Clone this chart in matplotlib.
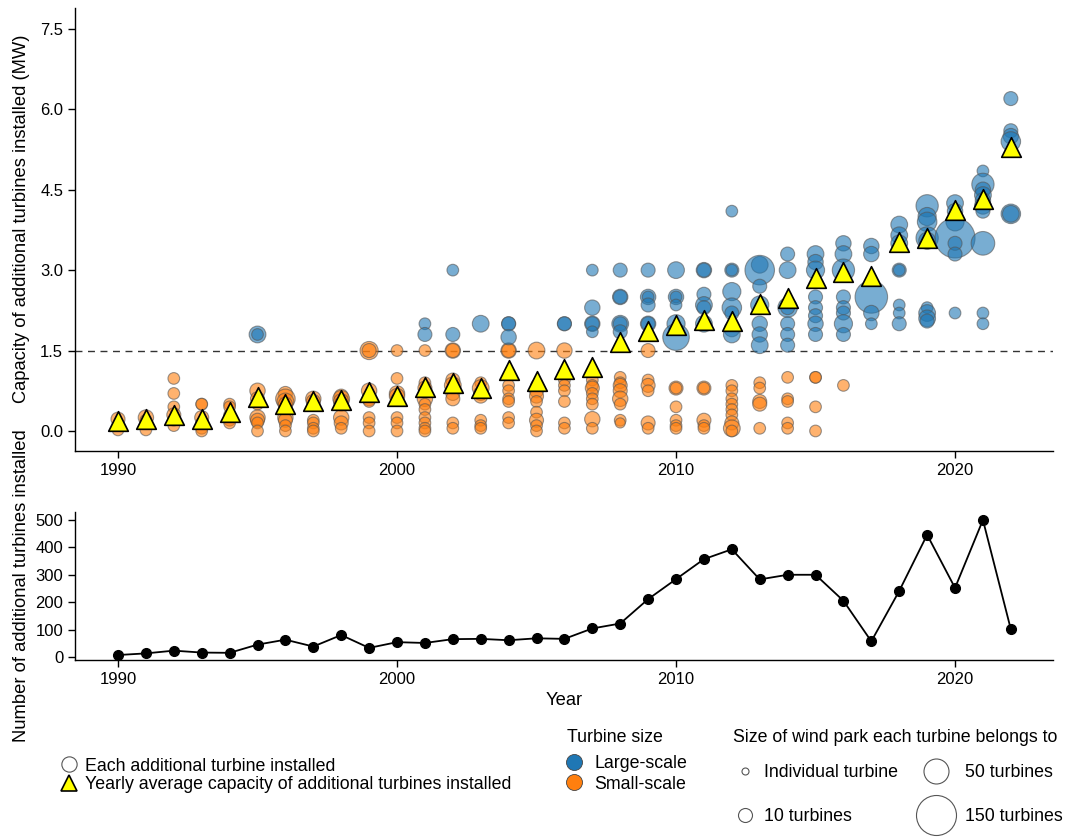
import numpy as np
import matplotlib
matplotlib.use("Agg")
import matplotlib.pyplot as plt
from matplotlib.lines import Line2D

plt.rcParams['font.family'] = ['Liberation Sans', 'DejaVu Sans']
plt.rcParams['font.size'] = 12

# yearly summary
years = list(range(1990, 2023))
avg_capacity = [0.19, 0.22, 0.30, 0.22, 0.35, 0.63, 0.50, 0.56, 0.58, 0.73,
                0.65, 0.82, 0.90, 0.80, 1.14, 0.93, 1.16, 1.19, 1.66, 1.87,
                1.98, 2.07, 2.05, 2.37, 2.48, 2.85, 2.97, 2.89, 3.53, 3.60,
                4.12, 4.33, 5.30]
n_turbines = [7, 13, 23, 16, 15, 45, 63, 38, 80, 33,
              54, 51, 65, 66, 61, 68, 66, 104, 122, 211,
              284, 357, 393, 283, 300, 300, 205, 57, 241, 446,
              252, 500, 101]

# (year, capacity MW, wind park size) for each turbine group
small_scale = [
    (1990, 0.22, 10), (1990, 0.02, 7),
    (1991, 0.25, 15), (1991, 0.20, 7), (1991, 0.02, 7),
    (1992, 0.98, 7), (1992, 0.70, 7), (1992, 0.45, 7), (1992, 0.30, 10), (1992, 0.20, 7), (1992, 0.10, 7),
    (1993, 0.50, 7), (1993, 0.50, 7), (1993, 0.25, 10), (1993, 0.15, 7), (1993, 0.05, 7), (1993, 0.00, 7),
    (1994, 0.50, 7), (1994, 0.45, 7), (1994, 0.30, 7), (1994, 0.20, 7), (1994, 0.15, 7),
    (1995, 0.75, 15), (1995, 0.60, 10), (1995, 0.50, 7), (1995, 0.25, 15), (1995, 0.20, 10), (1995, 0.15, 7), (1995, 0.00, 7),
    (1996, 0.70, 10), (1996, 0.60, 30), (1996, 0.55, 20), (1996, 0.50, 10), (1996, 0.25, 15), (1996, 0.20, 10), (1996, 0.10, 7), (1996, 0.00, 7),
    (1997, 0.60, 15), (1997, 0.55, 10), (1997, 0.20, 7), (1997, 0.15, 7), (1997, 0.05, 7), (1997, 0.00, 7),
    (1998, 0.65, 10), (1998, 0.60, 20), (1998, 0.55, 15), (1998, 0.50, 10), (1998, 0.25, 15), (1998, 0.15, 10), (1998, 0.05, 7),
    (1999, 1.50, 25), (1999, 1.50, 10), (1999, 0.75, 15), (1999, 0.60, 10), (1999, 0.55, 7), (1999, 0.25, 7), (1999, 0.15, 7), (1999, 0.00, 7),
    (2000, 1.50, 7), (2000, 0.98, 7), (2000, 0.70, 15), (2000, 0.65, 15), (2000, 0.60, 7), (2000, 0.25, 7), (2000, 0.15, 7), (2000, 0.00, 7),
    (2001, 1.50, 7), (2001, 0.90, 7), (2001, 0.80, 10), (2001, 0.75, 7), (2001, 0.60, 15), (2001, 0.50, 7), (2001, 0.40, 7),
    (2001, 0.25, 7), (2001, 0.15, 7), (2001, 0.05, 7), (2001, 0.00, 7),
    (2002, 1.50, 15), (2002, 1.50, 10), (2002, 0.95, 10), (2002, 0.85, 20), (2002, 0.70, 10), (2002, 0.60, 10), (2002, 0.15, 7), (2002, 0.05, 7),
    (2003, 0.90, 7), (2003, 0.80, 20), (2003, 0.70, 10), (2003, 0.65, 10), (2003, 0.20, 7), (2003, 0.10, 7), (2003, 0.05, 7),
    (2004, 1.50, 15), (2004, 1.50, 10), (2004, 0.85, 7), (2004, 0.75, 7), (2004, 0.60, 7), (2004, 0.55, 7), (2004, 0.25, 7), (2004, 0.15, 7),
    (2005, 1.50, 20), (2005, 0.85, 7), (2005, 0.75, 10), (2005, 0.65, 10), (2005, 0.55, 7), (2005, 0.35, 7), (2005, 0.20, 10), (2005, 0.10, 7), (2005, 0.00, 7),
    (2006, 1.50, 15), (2006, 0.95, 7), (2006, 0.85, 7), (2006, 0.75, 7), (2006, 0.55, 7), (2006, 0.15, 7), (2006, 0.05, 7),
    (2007, 0.95, 7), (2007, 0.85, 7), (2007, 0.80, 10), (2007, 0.70, 7), (2007, 0.60, 7), (2007, 0.50, 7), (2007, 0.22, 15), (2007, 0.05, 7),
    (2008, 1.00, 7), (2008, 0.90, 7), (2008, 0.85, 10), (2008, 0.75, 10), (2008, 0.60, 15), (2008, 0.50, 7), (2008, 0.20, 7), (2008, 0.15, 5),
    (2009, 1.50, 10), (2009, 0.95, 7), (2009, 0.85, 10), (2009, 0.75, 7), (2009, 0.15, 10), (2009, 0.05, 7),
    (2010, 0.80, 10), (2010, 0.80, 7), (2010, 0.45, 7), (2010, 0.20, 7), (2010, 0.10, 7), (2010, 0.05, 7),
    (2011, 0.80, 10), (2011, 0.80, 7), (2011, 0.20, 10), (2011, 0.10, 7), (2011, 0.05, 7),
    (2012, 0.85, 7), (2012, 0.75, 7), (2012, 0.60, 7), (2012, 0.50, 7), (2012, 0.40, 7), (2012, 0.30, 7),
    (2012, 0.15, 10), (2012, 0.05, 20), (2012, 0.00, 7),
    (2013, 0.90, 7), (2013, 0.80, 7), (2013, 0.55, 10), (2013, 0.50, 10), (2013, 0.05, 7),
    (2014, 1.00, 7), (2014, 0.60, 7), (2014, 0.55, 7), (2014, 0.15, 7), (2014, 0.05, 7),
    (2015, 1.00, 7), (2015, 1.00, 7), (2015, 0.45, 7), (2015, 0.00, 7),
    (2016, 0.85, 7),
]

large_scale = [
    (1995, 1.80, 20), (1995, 1.80, 7),
    (2001, 2.00, 7), (2001, 1.80, 10),
    (2002, 3.00, 7), (2002, 1.80, 10),
    (2003, 2.00, 20),
    (2004, 2.00, 10), (2004, 2.00, 10), (2004, 1.75, 15),
    (2006, 2.00, 10), (2006, 2.00, 10),
    (2007, 3.00, 7), (2007, 2.30, 15), (2007, 2.00, 15), (2007, 2.00, 10), (2007, 1.85, 7),
    (2008, 3.00, 10), (2008, 2.50, 15), (2008, 2.50, 10), (2008, 2.00, 20), (2008, 2.00, 10), (2008, 1.85, 10),
    (2009, 3.00, 10), (2009, 2.50, 15), (2009, 2.50, 7), (2009, 2.35, 10), (2009, 2.00, 15), (2009, 2.00, 10), (2009, 1.80, 7),
    (2010, 3.00, 20), (2010, 2.50, 15), (2010, 2.50, 7), (2010, 2.35, 7), (2010, 2.00, 25), (2010, 1.75, 60),
    (2011, 3.00, 15), (2011, 3.00, 10), (2011, 2.55, 10), (2011, 2.35, 20), (2011, 2.30, 10), (2011, 2.00, 20),
    (2012, 4.10, 7), (2012, 3.00, 10), (2012, 3.00, 7), (2012, 2.60, 25), (2012, 2.30, 30), (2012, 2.20, 10),
    (2012, 1.90, 15), (2012, 1.80, 20),
    (2013, 3.10, 20), (2013, 3.00, 80), (2013, 2.70, 10), (2013, 2.35, 25), (2013, 2.00, 15), (2013, 1.80, 15), (2013, 1.60, 20),
    (2014, 3.30, 10), (2014, 3.00, 20), (2014, 2.30, 30), (2014, 2.30, 10), (2014, 2.00, 10), (2014, 1.80, 10), (2014, 1.60, 10),
    (2015, 3.30, 20), (2015, 3.15, 15), (2015, 3.00, 25), (2015, 2.50, 10), (2015, 2.30, 10), (2015, 2.15, 10),
    (2015, 2.00, 15), (2015, 1.80, 10),
    (2016, 3.50, 15), (2016, 3.30, 20), (2016, 3.00, 40), (2016, 2.50, 10), (2016, 2.30, 10), (2016, 2.20, 10),
    (2016, 2.00, 25), (2016, 1.80, 10),
    (2017, 3.45, 15), (2017, 3.30, 15), (2017, 2.50, 100), (2017, 2.20, 15), (2017, 2.00, 7),
    (2018, 3.85, 20), (2018, 3.65, 20), (2018, 3.50, 20), (2018, 3.00, 10), (2018, 3.00, 7), (2018, 2.35, 7),
    (2018, 2.20, 7), (2018, 2.00, 10),
    (2019, 4.20, 40), (2019, 4.00, 25), (2019, 3.90, 30), (2019, 3.60, 40), (2019, 3.55, 20), (2019, 2.30, 7),
    (2019, 2.20, 20), (2019, 2.10, 20), (2019, 2.05, 10),
    (2020, 4.25, 20), (2020, 4.10, 15), (2020, 3.90, 25), (2020, 3.60, 150), (2020, 3.50, 10), (2020, 3.30, 10), (2020, 2.20, 7),
    (2021, 4.85, 7), (2021, 4.60, 40), (2021, 4.50, 15), (2021, 4.40, 20), (2021, 4.30, 15), (2021, 4.20, 20),
    (2021, 4.10, 10), (2021, 3.50, 45), (2021, 2.20, 7), (2021, 2.00, 7),
    (2022, 6.20, 10), (2022, 5.60, 10), (2022, 5.50, 15), (2022, 5.40, 30), (2022, 4.05, 30), (2022, 4.05, 20),
]

park_breaks = [1, 10, 50, 150]
park_labels = ["Individual turbine", "10 turbines", "50 turbines", "150 turbines"]

BLUE = "#1f77b4"
ORANGE = "#ff7f0e"
LEG_FS = 12.8


def bubble_area(n):
    # marker area (pt^2) for a wind park of n turbines
    d = np.interp(n, park_breaks, [7, 14, 25, 40]) * 0.72
    return d ** 2


def fy(py):
    # pixel row -> figure fraction
    return 1 - py / 839


fig = plt.figure(figsize=(10.75, 8.39), dpi=100)
ax1 = fig.add_axes([0.0698, 0.4625, 0.9097, 0.528])
ax2 = fig.add_axes([0.0698, 0.2134, 0.9097, 0.1763])

for pts, col in [(small_scale, ORANGE), (large_scale, BLUE)]:
    arr = np.array(pts)
    ax1.scatter(arr[:, 0], arr[:, 1], s=bubble_area(arr[:, 2]), color=col,
                alpha=0.6, edgecolors="#555555", linewidths=0.8, zorder=2)

ax1.axhline(1.5, color="#333333", lw=1, ls=(0, (5, 4)), zorder=1)
ax1.scatter(years, avg_capacity, marker="^", s=200, color="yellow",
            edgecolors="black", linewidths=1.2, zorder=3)

ax1.set_xlim(1988.46, 2023.51)
ax1.set_ylim(-0.373, 7.89)
ax1.set_yticks([0, 1.5, 3.0, 4.5, 6.0, 7.5])
ax1.set_yticklabels(["0.0", "1.5", "3.0", "4.5", "6.0", "7.5"])
ax1.set_xticks([1990, 2000, 2010, 2020])
ax1.set_ylabel("Capacity of additional turbines installed (MW)", fontsize=13.2)

ax2.plot(years, n_turbines, color="black", lw=1.3, marker="o", ms=7, zorder=3)
ax2.set_xlim(1988.46, 2023.51)
ax2.set_ylim(-11, 529)
ax2.set_yticks([0, 100, 200, 300, 400, 500])
ax2.set_xticks([1990, 2000, 2010, 2020])
ax2.set_xlabel("Year", fontsize=13.2, labelpad=4)
ax2.set_ylabel("Number of additional turbines installed", fontsize=13.2)
ax1.yaxis.set_label_coords(-0.046, 0.525)
ax2.yaxis.set_label_coords(-0.046, 0.5)

for ax in (ax1, ax2):
    ax.spines["top"].set_visible(False)
    ax.spines["right"].set_visible(False)
    ax.tick_params(direction="out", length=5, width=1, colors="black", labelsize=12)
    for s in ("left", "bottom"):
        ax.spines[s].set_linewidth(1)

# legend: marker meaning
h_each = Line2D([], [], ls="none", marker="o", ms=11, mfc="white", mec="#555555", mew=0.8)
h_avg = Line2D([], [], ls="none", marker="^", ms=11, mfc="yellow", mec="black", mew=1.2)
fig.legend([h_each, h_avg],
           ["Each additional turbine installed",
            "Yearly average capacity of additional turbines installed"],
           loc="upper left", bbox_to_anchor=(0.039, 0.116), frameon=False,
           handletextpad=0.3, labelspacing=0.1, handlelength=1.2, fontsize=LEG_FS)

# legend: turbine size
fig.text(567 / 1075, fy(738), "Turbine size", fontsize=LEG_FS, ha="left", va="center")
h_large = Line2D([], [], ls="none", marker="o", ms=11.5, mfc=BLUE, mec="#444444", mew=0.6)
h_small = Line2D([], [], ls="none", marker="o", ms=11.5, mfc=ORANGE, mec="#444444", mew=0.6)
fig.legend([h_large, h_small], ["Large-scale", "Small-scale"],
           loc="center left", bbox_to_anchor=(0.5096, fy(774)), frameon=False,
           handletextpad=0.52, labelspacing=0.17, handlelength=1.2, fontsize=LEG_FS)

# legend: wind park size, one legend per column
fig.text(733 / 1075, fy(738), "Size of wind park each turbine belongs to",
         fontsize=LEG_FS, ha="left", va="center")
h_park = [Line2D([], [], ls="none", marker="o", ms=np.sqrt(bubble_area(n)),
                 mfc="white", mec="#555555", mew=0.8) for n in park_breaks]
fig.legend(h_park[:2], park_labels[:2],
           loc="center left", bbox_to_anchor=(0.6682, fy(794.5)), frameon=False,
           handletextpad=0.47, labelspacing=1.55, handlelength=1.2, fontsize=LEG_FS)
fig.legend(h_park[2:], park_labels[2:],
           loc="center left", bbox_to_anchor=(0.8359, fy(794.5)), frameon=False,
           handletextpad=0.42, labelspacing=1.55, handlelength=2.4, fontsize=LEG_FS)

fig.savefig("out.png", dpi=100)
